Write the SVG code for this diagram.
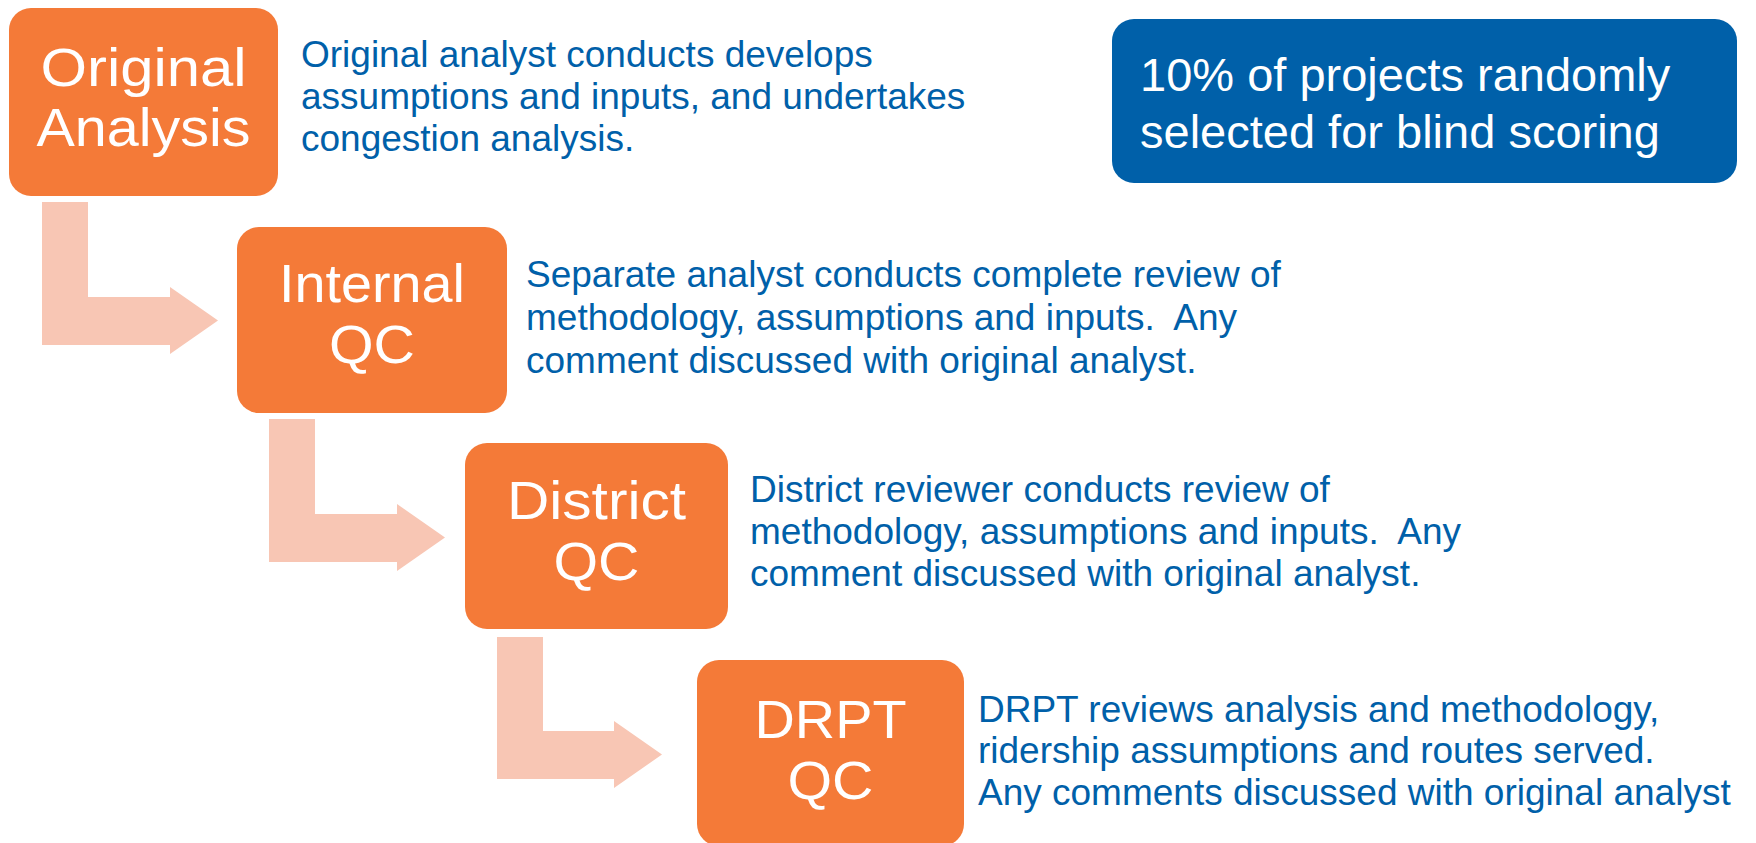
<svg xmlns="http://www.w3.org/2000/svg" width="1756" height="843" viewBox="0 0 1756 843">
<defs>
<style>
.box{fill:#F47A38;}
.lbl{font-family:"Liberation Sans",Arial,sans-serif;font-size:54px;fill:#FFFFFF;text-anchor:middle;}
.desc{font-family:"Liberation Sans",Arial,sans-serif;font-size:37px;fill:#0060A9;white-space:pre;}
.arrow{fill:#F8C6B4;}
.note{fill:#0060A9;}
.notetxt{font-family:"Liberation Sans",Arial,sans-serif;font-size:47px;fill:#FFFFFF;}
</style>
<path id="elbow" d="M0,0 H46 V95 H128 V85 L176,118.5 L128,152 V143 H0 Z"/>
</defs>
<rect width="1756" height="843" fill="#FFFFFF"/>
<g id="connectors">
<use href="#elbow" class="arrow" x="42" y="202"/>
<use href="#elbow" class="arrow" x="269" y="419"/>
<path class="arrow" d="M497,637 H543 V731 H614 V721 L662,754.5 L614,788 V779 H497 Z"/>
</g>
<g id="node-original">
<rect class="box" x="9" y="8" width="269" height="188" rx="22"/>
<text class="lbl" x="143.5" y="86" textLength="206" lengthAdjust="spacingAndGlyphs">Original</text>
<text class="lbl" x="143.5" y="146" textLength="214" lengthAdjust="spacingAndGlyphs">Analysis</text>
<text class="desc" x="301" y="67">Original analyst conducts develops</text>
<text class="desc" x="301" y="109">assumptions and inputs, and undertakes</text>
<text class="desc" x="301" y="151">congestion analysis.</text>
</g>
<g id="node-internal">
<rect class="box" x="237" y="227" width="270" height="186" rx="22"/>
<text class="lbl" x="372" y="302" textLength="186" lengthAdjust="spacingAndGlyphs">Internal</text>
<text class="lbl" x="372" y="363" textLength="86" lengthAdjust="spacingAndGlyphs">QC</text>
<text class="desc" x="526" y="287">Separate analyst conducts complete review of</text>
<text class="desc" x="526" y="330" xml:space="preserve">methodology, assumptions and inputs.  Any</text>
<text class="desc" x="526" y="373">comment discussed with original analyst.</text>
</g>
<g id="node-district">
<rect class="box" x="465" y="443" width="263" height="186" rx="22"/>
<text class="lbl" x="596.5" y="519" textLength="179" lengthAdjust="spacingAndGlyphs">District</text>
<text class="lbl" x="596.5" y="580" textLength="86" lengthAdjust="spacingAndGlyphs">QC</text>
<text class="desc" x="750" y="502">District reviewer conducts review of</text>
<text class="desc" x="750" y="544" xml:space="preserve">methodology, assumptions and inputs.  Any</text>
<text class="desc" x="750" y="586">comment discussed with original analyst.</text>
</g>
<g id="node-drpt">
<rect class="box" x="697" y="660" width="267" height="186" rx="22"/>
<text class="lbl" x="830.5" y="738" textLength="152" lengthAdjust="spacingAndGlyphs">DRPT</text>
<text class="lbl" x="830.5" y="799" textLength="86" lengthAdjust="spacingAndGlyphs">QC</text>
<text class="desc" x="978" y="722">DRPT reviews analysis and methodology,</text>
<text class="desc" x="978" y="763">ridership assumptions and routes served.</text>
<text class="desc" x="978" y="805">Any comments discussed with original analyst</text>
</g>
<g id="node-note">
<rect class="note" x="1112" y="19" width="625" height="164" rx="22"/>
<text class="notetxt" x="1140" y="91">10% of projects randomly</text>
<text class="notetxt" x="1140" y="148">selected for blind scoring</text>
</g>
</svg>
